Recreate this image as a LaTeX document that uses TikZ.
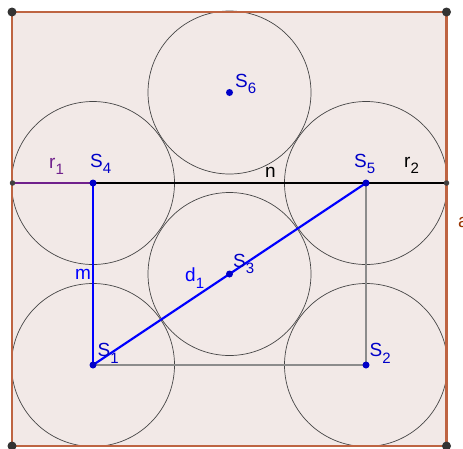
\documentclass[tikz,border=0pt]{standalone}
\usepackage{fontspec}
\setmainfont{Liberation Sans}
\definecolor{bgfill}{RGB}{242,233,231}
\definecolor{edge}{RGB}{190,100,66}
\definecolor{lblbrown}{RGB}{153,51,0}
\definecolor{ptblue}{RGB}{0,0,200}
\definecolor{lnblue}{RGB}{0,0,255}
\definecolor{rpurple}{RGB}{112,32,140}
\definecolor{auxgray}{RGB}{140,140,140}
\definecolor{circgray}{RGB}{70,70,70}
\newcommand{\lbl}[2]{#1\raisebox{-6.5pt}{\fontsize{15}{15}\selectfont #2}}
\begin{document}
\begin{tikzpicture}[x=1pt,y=-1pt,
  lab/.style={inner sep=0pt,anchor=base west,font=\fontsize{19}{19}\selectfont},
  pt/.style={circle,fill=ptblue,inner sep=0pt,minimum size=7pt},
  cpt/.style={circle,fill=black!80,inner sep=0pt,minimum size=9pt},
  spt/.style={circle,fill=black!75,inner sep=0pt,minimum size=5.5pt},
  circ/.style={draw=circgray,line width=0.7pt},
  aux/.style={draw=auxgray,line width=1.3pt},
  seg/.style={draw=lnblue,line width=2.2pt}]
\useasboundingbox (0,0) rectangle (463,448);
% square
\coordinate (A) at (12,12);
\coordinate (B) at (446.5,12);
\coordinate (C) at (446.5,446);
\coordinate (D) at (12,446);
\fill[bgfill] (A) rectangle (C);
% circles
\def\R{81.5}
\coordinate (s1) at (93,365);
\coordinate (s2) at (366,365);
\coordinate (s3) at (229.5,274);
\coordinate (s4) at (93,183);
\coordinate (s5) at (366,183);
\coordinate (s6) at (229.5,92.5);
\foreach \c in {s1,s2,s3,s4,s5,s6} \draw[circ] (\c) circle (\R);
% square edges
\draw[draw=edge,line width=2.2pt] (A) -- (B) -- (C) -- (D) -- cycle;
% helper points on line n
\coordinate (L) at (12.5,183);
\coordinate (Rr) at (446.5,183);
% gray auxiliary lines
\draw[aux] (s1) -- (s2);
\draw[aux] (s5) -- (s2);
% line n
\draw[line width=2.2pt,black] (s4) -- (Rr);
\draw[line width=2.2pt,rpurple] (L) -- (s4);
% blue segments
\draw[seg] (s4) -- (s1);
\draw[seg] (s1) -- (s5);
% points
\node[cpt] (pA) at (A) {};
\node[cpt] (pB) at (B) {};
\node[cpt] (pC) at (C) {};
\node[cpt] (pD) at (D) {};
\node[spt] (pL) at (L) {};
\node[spt] (pR) at (Rr) {};
\node[pt] (S1) at (s1) {};
\node[pt] (S2) at (s2) {};
\node[pt] (S3) at (s3) {};
\node[pt] (S4) at (s4) {};
\node[pt] (S5) at (s5) {};
\node[pt] (S6) at (s6) {};
% labels
\node[lab,text=ptblue] (l1) at (97.5,356.5) {\lbl{S}{1}};
\node[lab,text=ptblue] (l2) at (369.5,356.5) {\lbl{S}{2}};
\node[lab,text=ptblue] (l3) at (233,267) {\lbl{S}{3}};
\node[lab,text=ptblue] (l4) at (90,167) {\lbl{S}{4}};
\node[lab,text=ptblue] (l5) at (354,167) {\lbl{S}{5}};
\node[lab,text=ptblue] (l6) at (235,87) {\lbl{S}{6}};
\node[lab,text=rpurple] (lr1) at (49,168) {\lbl{r}{1}};
\node[lab,text=black] (lr2) at (404,167) {\lbl{r}{2}};
\node[lab,text=black] (ln) at (265,177.5) {n};
\node[lab,text=lnblue] (lm) at (75,279) {m};
\node[lab,text=lnblue] (ld) at (185,281.5) {\lbl{d}{1}};
\node[lab,text=lblbrown] (la) at (458,227) {a};
\end{tikzpicture}
\end{document}
